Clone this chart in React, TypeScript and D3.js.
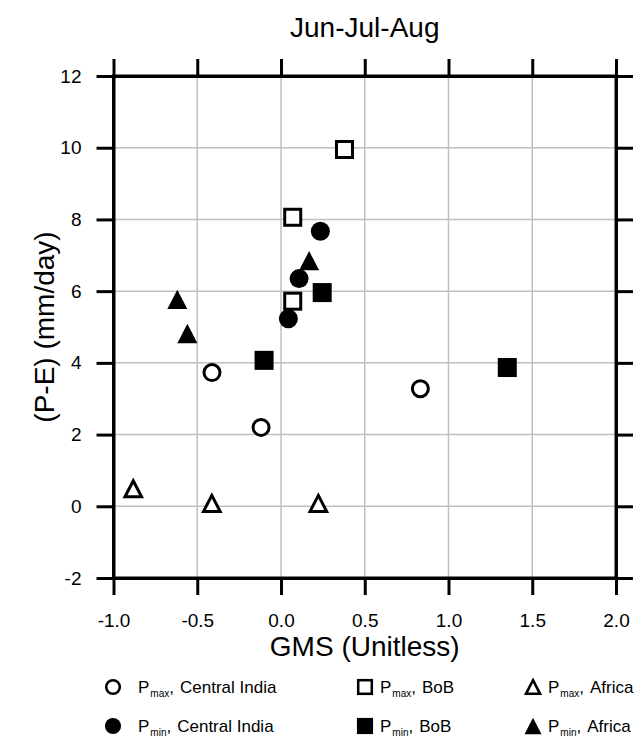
import * as d3 from "d3";
import { useEffect, useRef } from "react";

// point values (GMS, P-E)
const pmaxIndiaX = [-0.412, -0.119, 0.832];
const pmaxIndiaY = [3.73, 2.2, 3.28];
const pminIndiaX = [0.235, 0.108, 0.044];
const pminIndiaY = [7.67, 6.35, 5.23];
const pmaxBobX = [0.379, 0.07, 0.07];
const pmaxBobY = [9.95, 8.06, 5.72];
const pminBobX = [0.246, -0.101, 1.351];
const pminBobY = [5.96, 4.07, 3.87];
const pmaxAfricaX = [-0.882, -0.413, 0.223];
const pmaxAfricaY = [0.49, 0.08, 0.08];
const pminAfricaX = [0.168, -0.619, -0.559];
const pminAfricaY = [6.85, 5.77, 4.82];

const xTicks = [-1.0, -0.5, 0.0, 0.5, 1.0, 1.5, 2.0];
const yTicks = [-2, 0, 2, 4, 6, 8, 10, 12];

const series = [
    { name: "max", region: "Central India", shape: "circle", filled: false, xs: pmaxIndiaX, ys: pmaxIndiaY },
    { name: "min", region: "Central India", shape: "circle", filled: true, xs: pminIndiaX, ys: pminIndiaY },
    { name: "max", region: "BoB", shape: "square", filled: false, xs: pmaxBobX, ys: pmaxBobY },
    { name: "min", region: "BoB", shape: "square", filled: true, xs: pminBobX, ys: pminBobY },
    { name: "max", region: "Africa", shape: "triangle", filled: false, xs: pmaxAfricaX, ys: pmaxAfricaY },
    { name: "min", region: "Africa", shape: "triangle", filled: true, xs: pminAfricaX, ys: pminAfricaY },
];

const FONT = "'Liberation Sans', Arial, Helvetica, sans-serif";

// draws one marker centred at 0,0 inside g
const drawMarker = (g, shape, filled, k) => {
    const sw = 3 * k;
    if (shape === "circle") {
        g.append("circle")
            .attr("r", (filled ? 9.5 : 8) * k)
            .style("fill", filled ? "black" : "white")
            .style("stroke", filled ? "none" : "black")
            .style("stroke-width", sw);
    } else if (shape === "square") {
        const s = (filled ? 19 : 16) * k;
        g.append("rect")
            .attr("x", -s / 2).attr("y", -s / 2)
            .attr("width", s).attr("height", s)
            .style("fill", filled ? "black" : "white")
            .style("stroke", filled ? "none" : "black")
            .style("stroke-width", sw);
    } else {
        const hw = (filled ? 10 : 8.3) * k;
        const hh = (filled ? 9.7 : 8) * k;
        g.append("path")
            .attr("d", `M0,${-hh}L${hw},${hh}L${-hw},${hh}Z`)
            .style("fill", filled ? "black" : "white")
            .style("stroke", filled ? "none" : "black")
            .style("stroke-width", sw)
            .style("stroke-linejoin", "miter");
    }
};

const App = () => {
    const chartRef = useRef(null);

    const width = 644;
    const height = 740;
    const margin = { top: 76, left: 113.5, right: 28, bottom: 162 };
    const boundsWidth = width - margin.left - margin.right;
    const boundsHeight = height - margin.top - margin.bottom;

    useEffect(() => {
        const svg = d3.select(chartRef.current);
        svg.selectAll("*").remove();

        const scaleX = d3.scaleLinear().domain([-1, 2]).range([0, boundsWidth]);
        const scaleY = d3.scaleLinear().domain([-2, 12]).range([boundsHeight, 0]);

        const plot = svg.append("g")
            .attr("transform", `translate(${margin.left}, ${margin.top})`);

        // сетка
        plot.append("g")
            .selectAll("line.gx")
            .data(xTicks.slice(1, -1))
            .enter()
            .append("line")
            .attr("x1", d => scaleX(d)).attr("x2", d => scaleX(d))
            .attr("y1", 0).attr("y2", boundsHeight)
            .style("stroke", "#c0c0c0")
            .style("stroke-width", 1.5);
        plot.append("g")
            .selectAll("line.gy")
            .data(yTicks.slice(1, -1))
            .enter()
            .append("line")
            .attr("x1", 0).attr("x2", boundsWidth)
            .attr("y1", d => scaleY(d)).attr("y2", d => scaleY(d))
            .style("stroke", "#c0c0c0")
            .style("stroke-width", 1.5);

        // оси со всех четырёх сторон
        const tick = 17;
        const styleAxis = (g) => {
            g.selectAll("path").style("stroke", "black").style("stroke-width", 3);
            g.selectAll("line").style("stroke", "black").style("stroke-width", 3);
            g.selectAll("text")
                .style("font-family", FONT)
                .style("font-size", "19px")
                .style("fill", "black");
        };

        plot.append("g")
            .attr("transform", `translate(0, ${boundsHeight})`)
            .call(d3.axisBottom(scaleX).tickValues(xTicks).tickSize(tick).tickSizeOuter(0)
                .tickPadding(19).tickFormat(d3.format(".1f")))
            .call(styleAxis)
            .selectAll("text").text(d => d3.format(".1f")(d).replace("−", "-"));

        plot.append("g")
            .call(d3.axisLeft(scaleY).tickValues(yTicks).tickSize(tick).tickSizeOuter(0)
                .tickPadding(15).tickFormat(d => `${d}`))
            .call(styleAxis);

        plot.append("g")
            .call(d3.axisTop(scaleX).tickValues(xTicks).tickSize(tick).tickSizeOuter(0).tickFormat(() => ""))
            .call(styleAxis);

        plot.append("g")
            .attr("transform", `translate(${boundsWidth}, 0)`)
            .call(d3.axisRight(scaleY).tickValues(yTicks).tickSize(tick).tickSizeOuter(0).tickFormat(() => ""))
            .call(styleAxis);

        plot.append("rect")
            .attr("width", boundsWidth)
            .attr("height", boundsHeight)
            .style("fill", "none")
            .style("stroke", "black")
            .style("stroke-width", 3);

        // точки
        series.forEach(s => {
            s.xs.forEach((x, i) => {
                const g = plot.append("g")
                    .attr("transform", `translate(${scaleX(x)}, ${scaleY(s.ys[i])})`);
                drawMarker(g, s.shape, s.filled, 1);
            });
        });

        // подписи
        svg.append("text")
            .attr("x", margin.left + boundsWidth / 2)
            .attr("y", 37)
            .attr("text-anchor", "middle")
            .style("font-family", FONT)
            .style("font-size", "28px")
            .text("Jun-Jul-Aug");

        svg.append("text")
            .attr("x", margin.left + boundsWidth / 2)
            .attr("y", 656)
            .attr("text-anchor", "middle")
            .style("font-family", FONT)
            .style("font-size", "28px")
            .text("GMS (Unitless)");

        svg.append("text")
            .attr("transform", `translate(54, ${margin.top + boundsHeight / 2}) rotate(-90)`)
            .attr("text-anchor", "middle")
            .style("font-family", FONT)
            .style("font-size", "28px")
            .text("(P-E) (mm/day)");

        // легенда
        const colX = [113, 365, 533];
        const textX = [138, 380, 548];
        const rowY = [687, 726];
        series.forEach((s, i) => {
            const col = Math.floor(i / 2);
            const row = i % 2;
            const g = svg.append("g")
                .attr("transform", `translate(${colX[col]}, ${rowY[row]})`);
            drawMarker(g, s.shape, s.filled, 0.85);
            const t = svg.append("text")
                .attr("x", textX[col])
                .attr("y", rowY[row] + 6)
                .style("font-family", FONT)
                .style("font-size", "17px");
            t.append("tspan").text("P");
            t.append("tspan").attr("dy", 4).attr("dx", 1).style("font-size", "10px").text(s.name === "max" ? "max" : "min");
            t.append("tspan").attr("dy", -4).text(",");
            t.append("tspan").attr("dx", 6).text(s.region);
        });
    }, []);

    return (
        <svg ref={chartRef} width={width} height={height}
            style={{ position: "absolute", left: 0, top: 0, background: "white" }}></svg>
    );
};

export default App;
